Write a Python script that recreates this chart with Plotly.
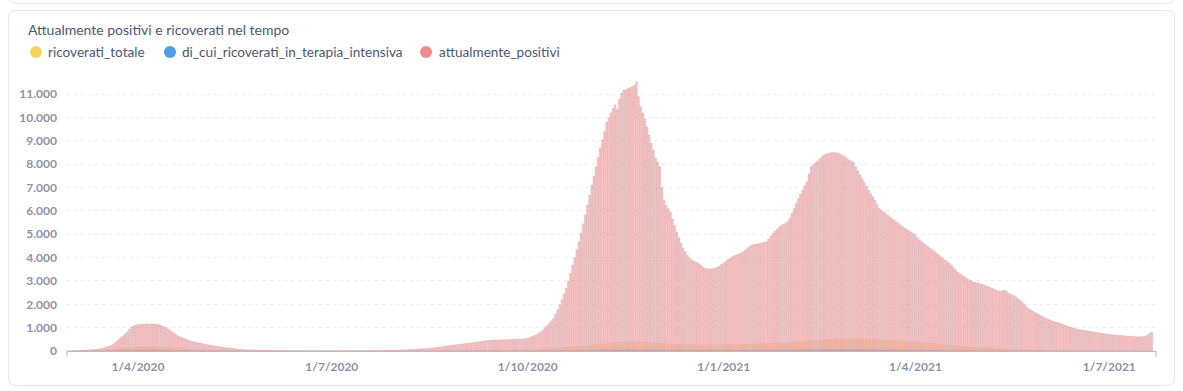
import pandas as pd
import plotly.graph_objects as go

# ---------------- DATA (daily values, 27 Feb 2020 -> 21 Jul 2021) ----------------
start_date = "2020-02-27"

pos_2020_02 = [5, 8, 12]
pos_2020_03 = [15, 18, 22, 25, 30, 35, 40, 45, 50, 55, 60, 70, 80, 95, 110, 140, 170, 200, 230, 270,
               340, 420, 500, 580, 650, 740, 830, 940, 1030, 1080, 1110]
pos_2020_04 = [1130, 1140, 1150, 1155, 1160, 1160, 1160, 1155, 1150, 1140, 1120, 1090, 1050, 1000, 950,
               900, 830, 760, 700, 640, 590, 560, 520, 490, 460, 430, 400, 380, 360, 340]
pos_2020_05 = [320, 300, 285, 265, 250, 235, 220, 205, 190, 175, 160, 145, 135, 125, 115, 105, 95, 85,
               75, 65, 60, 55, 52, 50, 48, 45, 43, 41, 40, 38, 36]
pos_2020_06 = [35, 34, 33, 32, 31, 30, 30, 29, 28, 27, 26, 26, 25, 24, 24, 23, 22, 22, 21, 21, 20, 20,
               20, 19, 19, 19, 18, 18, 18, 18]
pos_2020_07 = [18, 18, 19, 19, 20, 20, 21, 21, 22, 22, 23, 24, 24, 25, 25, 26, 27, 28, 28, 29, 30, 31,
               32, 33, 34, 35, 36, 38, 39, 40, 42]
pos_2020_08 = [45, 47, 50, 53, 56, 60, 64, 68, 72, 78, 84, 90, 97, 104, 112, 120, 130, 140, 152, 165,
               178, 190, 203, 215, 228, 240, 252, 264, 276, 288, 300]
pos_2020_09 = [310, 320, 330, 345, 360, 372, 385, 398, 410, 425, 440, 450, 458, 465, 470, 472, 475, 478,
               480, 483, 485, 488, 490, 495, 500, 505, 510, 515, 525, 535]
pos_2020_10 = [545, 580, 620, 655, 690, 760, 830, 900, 990, 1080, 1180, 1290, 1400, 1580, 1770, 1970,
               2200, 2440, 2690, 3000, 3340, 3680, 4000, 4340, 4680, 5060, 5450, 5830, 6250, 6680, 7110]
pos_2020_11 = [7500, 7900, 8300, 8700, 9050, 9400, 9800, 10000, 10200, 10400, 10550, 10350, 10800,
               11050, 11180, 11200, 11250, 11280, 11320, 11400, 11540, 10900, 10470, 10200, 9950, 9600,
               9250, 8900, 8600, 8250]
pos_2020_12 = [8100, 7900, 7000, 6450, 6250, 6100, 5950, 5650, 5380, 5100, 4850, 4620, 4400, 4250, 4100,
               3970, 3900, 3850, 3800, 3760, 3700, 3620, 3540, 3530, 3520, 3520, 3530, 3550, 3600, 3650,
               3720]
pos_2021_01 = [3780, 3850, 3920, 3980, 4040, 4080, 4120, 4160, 4200, 4250, 4320, 4400, 4470, 4540, 4560,
               4580, 4600, 4620, 4640, 4660, 4680, 4800, 4920, 5040, 5130, 5220, 5310, 5400, 5430, 5470,
               5550]
pos_2021_02 = [5680, 5900, 6110, 6320, 6540, 6720, 6900, 7080, 7250, 7580, 7900, 7980, 8060, 8140, 8230,
               8320, 8400, 8430, 8460, 8490, 8510, 8500, 8490, 8470, 8420, 8380, 8330, 8250]
pos_2021_03 = [8180, 8130, 8080, 7900, 7720, 7540, 7380, 7220, 7060, 6900, 6750, 6610, 6470, 6290, 6110,
               6040, 5970, 5900, 5820, 5750, 5680, 5610, 5540, 5470, 5400, 5330, 5270, 5210, 5150, 5100,
               5040]
pos_2021_04 = [4950, 4850, 4760, 4690, 4610, 4540, 4470, 4400, 4330, 4260, 4180, 4110, 4040, 3970, 3900,
               3830, 3760, 3660, 3560, 3470, 3370, 3300, 3240, 3180, 3110, 3060, 3010, 2970, 2950, 2920]
pos_2021_05 = [2900, 2870, 2830, 2800, 2760, 2730, 2690, 2650, 2610, 2570, 2560, 2600, 2610, 2540, 2470,
               2420, 2380, 2330, 2260, 2190, 2110, 2020, 1920, 1830, 1770, 1720, 1660, 1610, 1560, 1510,
               1470]
pos_2021_06 = [1420, 1380, 1330, 1300, 1270, 1240, 1210, 1190, 1150, 1110, 1080, 1040, 1020, 990, 970,
               940, 920, 900, 885, 870, 855, 840, 825, 810, 800, 785, 770, 755, 740, 728]
pos_2021_07 = [715, 705, 695, 685, 675, 668, 660, 652, 645, 638, 630, 622, 615, 610, 608, 612, 625, 645,
               700, 760, 800]

ric_2020_02 = [2, 3, 5]
ric_2020_03 = [8, 10, 12, 14, 16, 18, 20, 22, 25, 28, 31, 35, 40, 45, 50, 56, 62, 70, 78, 86, 95, 104,
               113, 122, 130, 138, 146, 154, 160, 166, 170]
ric_2020_04 = [175, 178, 180, 182, 183, 183, 182, 180, 178, 175, 172, 168, 163, 158, 152, 146, 140, 134,
               128, 122, 116, 110, 104, 98, 93, 88, 83, 78, 74, 70]
ric_2020_05 = [66, 62, 58, 55, 52, 49, 46, 43, 40, 38, 36, 34, 32, 30, 28, 26, 24, 23, 22, 21, 20, 19,
               18, 17, 16, 15, 14, 13, 12, 12, 11]
ric_2020_06 = [11, 10, 10, 9, 9, 8, 8, 8, 7, 7, 7, 6, 6, 6, 6, 5, 5, 5, 5, 5, 5, 4, 4, 4, 4, 4, 4, 4, 4, 4]
ric_2020_07 = [4, 4, 4, 5, 5, 5, 5, 5, 6, 6, 6, 6, 7, 7, 7, 7, 8, 8, 8, 9, 9, 9, 10, 10, 10, 11, 11, 12,
               12, 13, 13]
ric_2020_08 = [13, 14, 14, 15, 15, 16, 16, 17, 17, 18, 18, 19, 19, 20, 20, 21, 22, 23, 24, 25, 26, 27,
               28, 29, 30, 31, 32, 33, 34, 35, 36]
ric_2020_09 = [37, 38, 39, 40, 41, 42, 43, 44, 45, 46, 47, 48, 49, 50, 51, 52, 53, 54, 55, 56, 57, 58,
               59, 60, 61, 62, 63, 64, 65, 66]
ric_2020_10 = [68, 70, 72, 75, 78, 82, 86, 90, 95, 100, 106, 112, 118, 125, 132, 140, 148, 156, 165, 174,
               183, 192, 201, 210, 219, 228, 237, 246, 255, 264, 273]
ric_2020_11 = [282, 291, 300, 310, 320, 330, 340, 350, 360, 370, 378, 385, 392, 398, 402, 405, 408, 410,
               410, 409, 407, 404, 400, 396, 391, 386, 380, 374, 368, 362]
ric_2020_12 = [356, 350, 344, 338, 332, 326, 320, 315, 310, 305, 300, 296, 292, 288, 285, 282, 280, 278,
               276, 275, 274, 273, 273, 273, 274, 275, 276, 278, 280, 282, 285]
ric_2021_01 = [288, 291, 294, 297, 300, 303, 306, 309, 312, 315, 318, 320, 322, 324, 326, 328, 330, 332,
               334, 336, 338, 341, 344, 347, 350, 354, 358, 362, 366, 370, 375]
ric_2021_02 = [380, 386, 392, 398, 405, 412, 420, 428, 436, 445, 454, 463, 472, 480, 488, 495, 502, 508,
               514, 519, 524, 528, 532, 535, 538, 540, 542, 543]
ric_2021_03 = [544, 544, 544, 543, 542, 540, 538, 535, 532, 528, 524, 520, 515, 510, 504, 498, 492, 486,
               480, 474, 468, 462, 456, 450, 444, 438, 432, 426, 420, 414, 408]
ric_2021_04 = [400, 392, 384, 376, 368, 360, 352, 344, 336, 328, 320, 312, 304, 296, 288, 280, 272, 264,
               256, 248, 240, 233, 226, 219, 212, 205, 198, 191, 184, 177]
ric_2021_05 = [170, 164, 158, 152, 146, 140, 134, 128, 122, 116, 110, 105, 100, 95, 90, 86, 82, 78, 74,
               70, 67, 64, 61, 58, 55, 52, 50, 48, 46, 44, 42]
ric_2021_06 = [40, 39, 38, 37, 36, 35, 34, 33, 32, 31, 30, 29, 28, 27, 26, 26, 25, 25, 24, 24, 23, 23,
               22, 22, 22, 21, 21, 21, 20, 20]
ric_2021_07 = [20, 20, 20, 19, 19, 19, 19, 19, 19, 19, 19, 19, 19, 19, 20, 20, 20, 21, 21, 22, 22]

ti_2020_02 = [0, 1, 1]
ti_2020_03 = [1, 1, 2, 2, 3, 3, 4, 4, 5, 5, 6, 7, 8, 9, 10, 11, 12, 14, 16, 18, 20, 22, 24, 26, 28, 30,
              32, 34, 35, 36, 37]
ti_2020_04 = [38, 39, 40, 40, 40, 40, 39, 38, 37, 36, 35, 34, 33, 31, 29, 27, 25, 23, 21, 19, 18, 17, 16,
              15, 14, 13, 12, 11, 10, 9]
ti_2020_05 = [9, 8, 8, 7, 7, 6, 6, 5, 5, 5, 4, 4, 4, 3, 3, 3, 3, 2, 2, 2, 2, 2, 2, 1, 1, 1, 1, 1, 1, 1, 1]
ti_2020_06 = [1, 1, 1, 1, 1, 1, 1, 1, 1, 1, 0, 0, 0, 0, 0, 0, 0, 0, 0, 0, 0, 0, 0, 0, 0, 0, 0, 0, 0, 0]
ti_2020_07 = [0, 0, 0, 0, 0, 0, 0, 0, 0, 0, 0, 0, 0, 0, 0, 0, 0, 0, 0, 0, 1, 1, 1, 1, 1, 1, 1, 1, 1, 1, 1]
ti_2020_08 = [1, 1, 1, 1, 1, 1, 1, 1, 1, 1, 1, 1, 1, 1, 1, 2, 2, 2, 2, 2, 2, 2, 2, 2, 2, 2, 2, 2, 2, 2, 2]
ti_2020_09 = [2, 2, 2, 2, 2, 2, 2, 2, 2, 2, 3, 3, 3, 3, 3, 3, 3, 3, 3, 3, 4, 4, 4, 4, 4, 4, 4, 4, 4, 4]
ti_2020_10 = [4, 4, 5, 5, 5, 6, 6, 7, 7, 8, 8, 9, 10, 11, 12, 13, 14, 15, 16, 17, 18, 20, 22, 24, 26, 28,
              30, 32, 34, 36, 38]
ti_2020_11 = [40, 42, 44, 46, 48, 50, 52, 54, 55, 56, 57, 58, 58, 59, 59, 60, 60, 60, 59, 59, 58, 57, 56,
              55, 54, 53, 52, 51, 50, 49]
ti_2020_12 = [48, 47, 46, 45, 44, 43, 42, 41, 40, 39, 38, 37, 36, 36, 35, 35, 34, 34, 34, 33, 33, 33, 33,
              33, 33, 33, 34, 34, 34, 35, 35]
ti_2021_01 = [35, 36, 36, 37, 37, 38, 38, 39, 39, 40, 40, 41, 41, 42, 42, 43, 43, 44, 44, 45, 45, 46, 46,
              47, 47, 48, 48, 49, 50, 51, 52]
ti_2021_02 = [53, 54, 55, 56, 57, 58, 59, 60, 61, 62, 63, 64, 65, 66, 67, 68, 69, 70, 70, 71, 71, 72, 72,
              72, 72, 72, 72, 72]
ti_2021_03 = [72, 72, 71, 71, 70, 70, 69, 68, 67, 66, 65, 64, 63, 62, 61, 60, 59, 58, 57, 56, 55, 54, 53,
              52, 51, 50, 49, 48, 47, 46, 45]
ti_2021_04 = [44, 43, 42, 41, 40, 39, 38, 37, 36, 35, 34, 33, 32, 31, 30, 29, 28, 27, 26, 25, 24, 23, 22,
              21, 20, 19, 18, 17, 16, 15]
ti_2021_05 = [15, 14, 14, 13, 13, 12, 12, 11, 11, 10, 10, 9, 9, 8, 8, 8, 7, 7, 7, 6, 6, 6, 5, 5, 5, 5, 4,
              4, 4, 4, 4]
ti_2021_06 = [4, 4, 4, 3, 3, 3, 3, 3, 3, 3, 3, 2, 2, 2, 2, 2, 2, 2, 2, 2, 2, 2, 2, 2, 2, 2, 1, 1, 1, 1]
ti_2021_07 = [1, 1, 1, 1, 1, 1, 1, 1, 1, 1, 1, 1, 1, 1, 1, 1, 1, 1, 1, 1, 1]

attualmente_positivi = (pos_2020_02 + pos_2020_03 + pos_2020_04 + pos_2020_05 + pos_2020_06 + pos_2020_07
                        + pos_2020_08 + pos_2020_09 + pos_2020_10 + pos_2020_11 + pos_2020_12 + pos_2021_01
                        + pos_2021_02 + pos_2021_03 + pos_2021_04 + pos_2021_05 + pos_2021_06 + pos_2021_07)
ricoverati_totale = (ric_2020_02 + ric_2020_03 + ric_2020_04 + ric_2020_05 + ric_2020_06 + ric_2020_07
                     + ric_2020_08 + ric_2020_09 + ric_2020_10 + ric_2020_11 + ric_2020_12 + ric_2021_01
                     + ric_2021_02 + ric_2021_03 + ric_2021_04 + ric_2021_05 + ric_2021_06 + ric_2021_07)
terapia_intensiva = (ti_2020_02 + ti_2020_03 + ti_2020_04 + ti_2020_05 + ti_2020_06 + ti_2020_07
                     + ti_2020_08 + ti_2020_09 + ti_2020_10 + ti_2020_11 + ti_2020_12 + ti_2021_01
                     + ti_2021_02 + ti_2021_03 + ti_2021_04 + ti_2021_05 + ti_2021_06 + ti_2021_07)

assert len(attualmente_positivi) == len(ricoverati_totale) == len(terapia_intensiva)

series_names = ["ricoverati_totale", "di_cui_ricoverati_in_terapia_intensiva", "attualmente_positivi"]
series_colors = ["#F9D45C", "#509EE3", "#EF8C8C"]
x_tick_dates = ["2020-04-01", "2020-07-01", "2020-10-01", "2021-01-01", "2021-04-01", "2021-07-01"]
x_tick_labels = ["1/4/2020", "1/7/2020", "1/10/2020", "1/1/2021", "1/4/2021", "1/7/2021"]
y_tick_values = [0, 1000, 2000, 3000, 4000, 5000, 6000, 7000, 8000, 9000, 10000, 11000]
title_text = "Attualmente positivi e ricoverati nel tempo"

dates = pd.date_range(start_date, periods=len(attualmente_positivi), freq="D")

# ---------------- LAYOUT GEOMETRY ----------------
W, H = 1183, 391
ML, MR, MT, MB = 67, 27, 80, 40
PW, PH = W - ML - MR, H - MT - MB


def px(x):
    return (x - ML) / PW


def py(y):
    return (H - MB - y) / PH


def rounded_rect(x0, y0, x1, y1, r):
    return (f"M {px(x0 + r)},{py(y0)} L {px(x1 - r)},{py(y0)} Q {px(x1)},{py(y0)} {px(x1)},{py(y0 + r)} "
            f"L {px(x1)},{py(y1 - r)} Q {px(x1)},{py(y1)} {px(x1 - r)},{py(y1)} "
            f"L {px(x0 + r)},{py(y1)} Q {px(x0)},{py(y1)} {px(x0)},{py(y1 - r)} "
            f"L {px(x0)},{py(y0 + r)} Q {px(x0)},{py(y0)} {px(x0 + r)},{py(y0)} Z")


fig = go.Figure()

values = [ricoverati_totale, terapia_intensiva, attualmente_positivi]
fills = ["rgba(249,200,120,0.55)", "rgba(80,158,227,0.6)", "rgba(241,148,148,0.55)"]
lines = ["rgba(249,212,92,0)", "rgba(80,158,227,0)", "rgba(190,125,135,0.45)"]
for name, vals, fc, lc in zip(series_names, values, fills, lines):
    fig.add_trace(go.Bar(x=dates, y=vals, name=name, marker=dict(color=fc, line=dict(color=lc, width=0.45)),
                         showlegend=False))

font_family = "Lato, 'Open Sans', sans-serif"

shapes = [
    dict(type="path", xref="paper", yref="paper", path=rounded_rect(8.5, 10.5, 1174.5, 385.5, 8),
         line=dict(color="#E2E5E9", width=1), fillcolor="white", layer="below"),
    dict(type="path", xref="paper", yref="paper", path=rounded_rect(8.5, -20, 1174.5, 3.5, 8),
         line=dict(color="#E2E5E9", width=1), fillcolor="white", layer="below"),
    dict(type="line", xref="paper", yref="paper", x0=px(67), x1=px(67), y0=py(351), y1=py(357),
         line=dict(color="#B9BCC4", width=1)),
    dict(type="line", xref="paper", yref="paper", x0=px(1156), x1=px(1156), y0=py(351), y1=py(357),
         line=dict(color="#B9BCC4", width=1)),
]

legend_circle_x = [36, 170, 426]
legend_text_x = [46, 180, 437]
annotations = [dict(text=title_text, xref="paper", yref="paper", x=px(26), y=py(29), xanchor="left",
                    yanchor="middle", showarrow=False, font=dict(family=font_family, size=14, color="#4C5773"))]
for name, color, cx, tx in zip(series_names, series_colors, legend_circle_x, legend_text_x):
    shapes.append(dict(type="circle", xref="paper", yref="paper", x0=px(cx - 6), x1=px(cx + 6),
                       y0=py(52 + 6), y1=py(52 - 6), fillcolor=color, line=dict(width=0)))
    annotations.append(dict(text=name, xref="paper", yref="paper", x=px(tx), y=py(52), xanchor="left",
                            yanchor="middle", showarrow=False,
                            font=dict(family=font_family, size=13.6, color="#4C5773")))

fig.update_layout(
    width=W, height=H,
    margin=dict(l=ML, r=MR, t=MT, b=MB, pad=0),
    paper_bgcolor="white", plot_bgcolor="rgba(0,0,0,0)",
    barmode="overlay", bargap=0.15,
    separators=",.",
    font=dict(family=font_family),
    shapes=shapes, annotations=annotations,
    xaxis=dict(type="date", range=["2020-02-27 16:00", "2021-07-22 22:00"],
               tickvals=x_tick_dates, ticktext=x_tick_labels, ticks="", showgrid=False,
               showline=True, linecolor="#B9BCC4", linewidth=1, zeroline=False,
               tickfont=dict(family=font_family, size=12, color="#8D93A5", weight="bold"),
               ticklabelstandoff=5),
    yaxis=dict(range=[0, 11610], tickvals=y_tick_values, tickformat=",d", ticks="",
               showgrid=True, gridcolor="#E9EBEE", griddash="3px,4px", gridwidth=1, zeroline=False,
               showline=False,
               tickfont=dict(family=font_family, size=12, color="#8D93A5", weight="bold"),
               ticklabelstandoff=9),
    hovermode=False,
)

fig.write_html("out.html", config={"displayModeBar": False},
               post_script="document.body.style.margin='0px';document.body.style.overflow='hidden';")
